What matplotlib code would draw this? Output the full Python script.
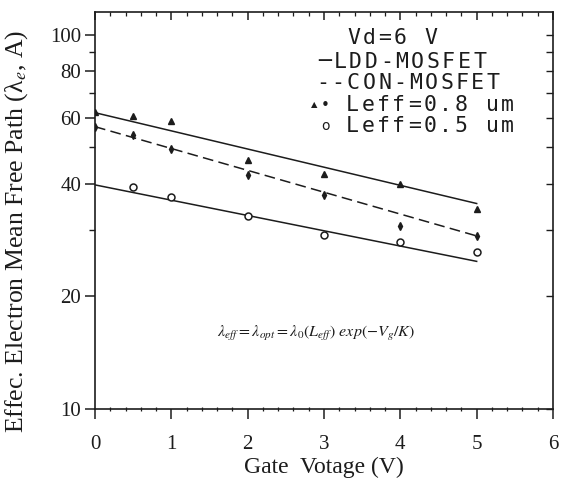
import numpy as np
import matplotlib
matplotlib.use("Agg")
import matplotlib.pyplot as plt
from matplotlib.ticker import FixedLocator, NullFormatter, NullLocator

plt.rcParams["font.family"] = ["Liberation Serif", "DejaVu Serif"]
plt.rcParams["mathtext.fontset"] = "stix"

# gate voltage (V)
vg = [0, 0.5, 1, 2, 3, 4, 5]
vg05 = [0.5, 1, 2, 3, 4, 5]

# measured effective mean free path (A)
ldd_08 = [62.2, 60.5, 58.9, 46.4, 42.5, 39.8, 34.3]   # triangles
con_08 = [56.6, 53.9, 49.5, 42.2, 37.2, 30.9, 28.9]   # small diamonds
ldd_05 = [39.1, 36.9, 32.7, 29.1, 27.9, 26.2]         # circles

# fitted exponential lines (end points)
fit_x = [0, 5]
ldd_08_fit = [61.9, 35.4]
con_08_fit = [56.8, 29.0]
ldd_05_fit = [39.7, 24.8]

ytick_major = [10, 20, 40, 60, 80, 100]
ytick_minor = [30, 50, 70, 90]

W, H = 563, 484
INK = "#1c1c1c"

fig = plt.figure(figsize=(W / 100, H / 100), dpi=100)
ax = fig.add_axes([95 / W, 1 - 409 / H, (553 - 95) / W, (409 - 12) / H])

ax.plot(fit_x, ldd_08_fit, color=INK, lw=1.1)
ax.plot(fit_x, con_08_fit, color=INK, lw=1.1, dashes=(7, 3.5))
ax.plot(fit_x, ldd_05_fit, color=INK, lw=1.1)

ax.plot(vg, ldd_08, ls="none", marker="^", ms=5, color=INK)
ax.plot(vg, con_08, ls="none", marker="d", ms=4, color=INK)
ax.plot(vg05, ldd_05, ls="none", marker="o", ms=5, mfc="white", mec=INK, mew=1.1)

ax.set_yscale("log")
ax.set_xlim(0, 6)
ax.set_ylim(10, 115)

ax.set_xticks(range(7))
ax.xaxis.set_minor_locator(FixedLocator(np.arange(0, 6.01, 0.2)))
ax.yaxis.set_major_locator(FixedLocator(ytick_major))
ax.yaxis.set_minor_locator(FixedLocator(ytick_minor))
ax.set_yticklabels([str(v) for v in ytick_major])
ax.yaxis.set_minor_formatter(NullFormatter())

for s in ax.spines.values():
    s.set_linewidth(1.2)
    s.set_color(INK)

ax.tick_params(axis="x", which="major", direction="out", length=7, width=1.1,
               labelsize=15, pad=12, colors=INK)
ax.tick_params(axis="x", which="minor", direction="inout", length=3, width=0.9,
               colors=INK)
ax.tick_params(axis="y", which="major", direction="out", length=7, width=1.1,
               labelsize=15, pad=3, colors=INK)
ax.tick_params(axis="y", which="minor", direction="out", length=4, width=1.0,
               colors=INK)

# ticks on top and right spines, pointing in
top = ax.secondary_xaxis("top")
top.set_xticks(range(7))
top.xaxis.set_minor_locator(FixedLocator(np.arange(0, 6.01, 0.2)))
top.tick_params(which="major", direction="in", length=6, width=1.1, labeltop=False,
                colors=INK)
top.tick_params(which="minor", direction="in", length=3, width=0.9, colors=INK)
top.spines["top"].set_visible(False)

right = ax.secondary_yaxis("right")
right.yaxis.set_major_locator(FixedLocator(ytick_major + ytick_minor))
right.yaxis.set_minor_locator(NullLocator())
right.tick_params(which="major", direction="in", length=5, width=1.0,
                  labelright=False, colors=INK)
right.spines["right"].set_visible(False)

# axis titles
fig.text(324 / W, 1 - 467 / H, "Gate  Votage (V)", ha="center", va="center",
         fontsize=17, color=INK)
fig.text(17 / W, 1 - 231 / H, "Effec. Electron Mean Free Path (λ$_e$, A)",
         rotation=90, ha="center", va="center", fontsize=18.5, color=INK)

# relation written on the plot
ax.text(0.483, 0.19,
        r"$\lambda_{eff} = \lambda_{opt} = \lambda_0(L_{eff})\ exp(-V_g/K)$",
        transform=ax.transAxes, ha="center", va="center", fontsize=11.5, color=INK)

# plotter-style key, one character per cell
def spaced(x_px, y_px, s, pitch=15.5, size=15.5):
    for i, ch in enumerate(s):
        if ch == " ":
            continue
        fig.text((x_px + i * pitch) / W, 1 - y_px / H, ch, ha="left", va="center",
                 fontsize=size, family="DejaVu Sans Mono", color=INK)

spaced(347, 38, "Vd=6 V")
spaced(318, 62, "\u2500LDD-MOSFET")
spaced(316, 83, "--CON-MOSFET")
spaced(346, 105, "Leff=0.8 um")
spaced(346, 126, "Leff=0.5 um")
fig.text(311 / W, 1 - 105 / H, "\u25b2", ha="left", va="center", fontsize=6,
         family="DejaVu Sans", color=INK)
fig.text(321 / W, 1 - 105 / H, "\u2022", ha="left", va="center", fontsize=11,
         family="DejaVu Sans", color=INK)
fig.text(321 / W, 1 - 126 / H, "o", ha="left", va="center", fontsize=10,
         family="DejaVu Sans", color=INK)

fig.savefig("out.png", dpi=100, facecolor="white")
